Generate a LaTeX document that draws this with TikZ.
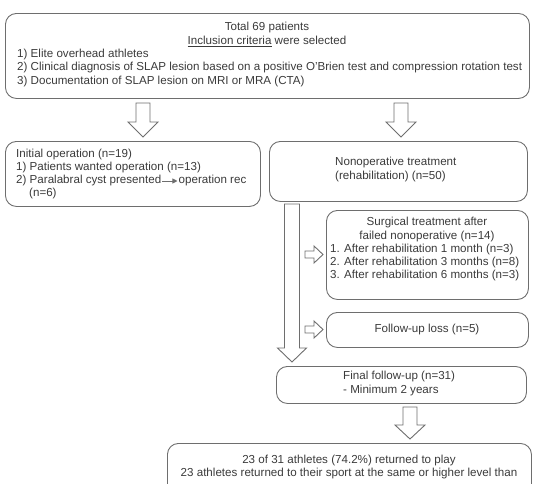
\documentclass[tikz,border=0pt]{standalone}
\usepackage{fontspec}
\setmainfont{Liberation Sans}
\usetikzlibrary{arrows.meta}
\definecolor{lc}{HTML}{6E6E6E}
\definecolor{tc}{HTML}{3A3A3A}
\tikzset{
  box/.style={draw=lc, line width=0.9pt, rounded corners=11pt, inner sep=0pt, anchor=north west},
  txt/.style={inner sep=0pt, text=tc, font=\fontsize{11.6}{13.5}\selectfont},
  ltxt/.style={txt, anchor=mid west},
  ctxt/.style={txt, anchor=mid},
  blockarrow/.style={draw=lc, line width=0.9pt, fill=white, line join=miter},
}
\newcommand{\downblock}[4]{% center x, top y, head y, tip y
  \draw[blockarrow] (#1-7,#2) -- (#1+7,#2) -- (#1+7,#3) -- (#1+15,#3) -- (#1,#4) -- (#1-15,#3) -- (#1-7,#3) -- cycle;}
\newcommand{\rightblock}[2]{% start x, center y
  \draw[blockarrow] (#1,#2-3.5) -- (#1+9,#2-3.5) -- (#1+9,#2-8.5) -- (#1+18,#2) -- (#1+9,#2+8.5) -- (#1+9,#2+3.5) -- (#1,#2+3.5) -- cycle;}
\begin{document}
\begin{tikzpicture}[x=1pt,y=-1pt]
\useasboundingbox (0,0) rectangle (536,483);
\clip (0,0) rectangle (536,483);

% top box
\node[box, minimum width=524pt, minimum height=85pt] (top) at (5,13) {};
\node[ctxt] (t1) at (267,28) {Total 69 patients};
\node[ctxt] (t2) at (267,42) {\underline{Inclusion criteria} were selected};
\node[ltxt] (t3) at (17,55) {1) Elite overhead athletes};
\node[ltxt] (t4) at (17,68) {2) Clinical diagnosis of SLAP lesion based on a positive O'Brien test and compression rotation test};
\node[ltxt] (t5) at (17,82) {3) Documentation of SLAP lesion on MRI or MRA (CTA)};

% arrows from top box
\downblock{143}{103}{122}{137}
\downblock{401}{103}{122}{137}

% initial operation
\node[box, minimum width=255pt, minimum height=65pt] (init) at (5,141) {};
\node[ltxt] (i1) at (16,155) {Initial operation (n=19)};
\node[ltxt] (i2) at (16,168) {1) Patients wanted operation (n=13)};
\node[ltxt] (i3) at (16,181) {2) Paralabral cyst presented};
\node[ltxt] (i3b) at ([xshift=17pt]i3.mid east) {operation rec};
\draw[lc, line width=0.9pt, -{Triangle[length=5pt,width=5pt]}] ([xshift=1pt]i3.mid east) -- ([xshift=-1pt]i3b.mid west);
\node[ltxt] (i4) at (29,194) {(n=6)};

% nonoperative
\node[box, minimum width=258pt, minimum height=60pt] (nonop) at (269,141) {};
\node[ltxt] (n1) at (335,163) {Nonoperative treatment};
\node[ltxt] (n2) at (335,177) {(rehabilitation) (n=50)};

% big arrow
\draw[blockarrow] (284.5,204) -- (299.5,204) -- (299.5,348) -- (306.5,348) -- (292,362) -- (277.5,348) -- (284.5,348) -- cycle;

% surgical
\node[box, minimum width=202pt, minimum height=89pt] (surg) at (326,210) {};
\node[ctxt] (s1) at (427,223) {Surgical treatment after};
\node[ctxt] (s2) at (427,237) {failed nonoperative (n=14)};
\node[ltxt] (s3) at (330,250) {1. After rehabilitation 1 month (n=3)};
\node[ltxt] (s4) at (330,263) {2. After rehabilitation 3 months (n=8)};
\node[ltxt] (s5) at (330,276) {3. After rehabilitation 6 months (n=3)};
\rightblock{305}{254.5}

% follow-up loss
\node[box, minimum width=202pt, minimum height=35pt] (loss) at (326,312) {};
\node[ctxt] (l1) at (427,329.5) {Follow-up loss (n=5)};
\rightblock{305}{329.5}

% final follow-up
\node[box, minimum width=250pt, minimum height=37pt] (final) at (276,366) {};
\node[ltxt] (f1) at (343,377) {Final follow-up (n=31)};
\node[ltxt] (f2) at (343,391) {- Minimum 2 years};

\downblock{410}{407}{425}{439}

% result
\node[box, minimum width=364pt, minimum height=70pt] (res) at (167,443) {};
\node[ctxt] (r1) at (349,461) {23 of 31 athletes (74.2\%) returned to play};
\node[ctxt] (r2) at (349,474) {23 athletes returned to their sport at the same or higher level than};
\end{tikzpicture}
\end{document}
